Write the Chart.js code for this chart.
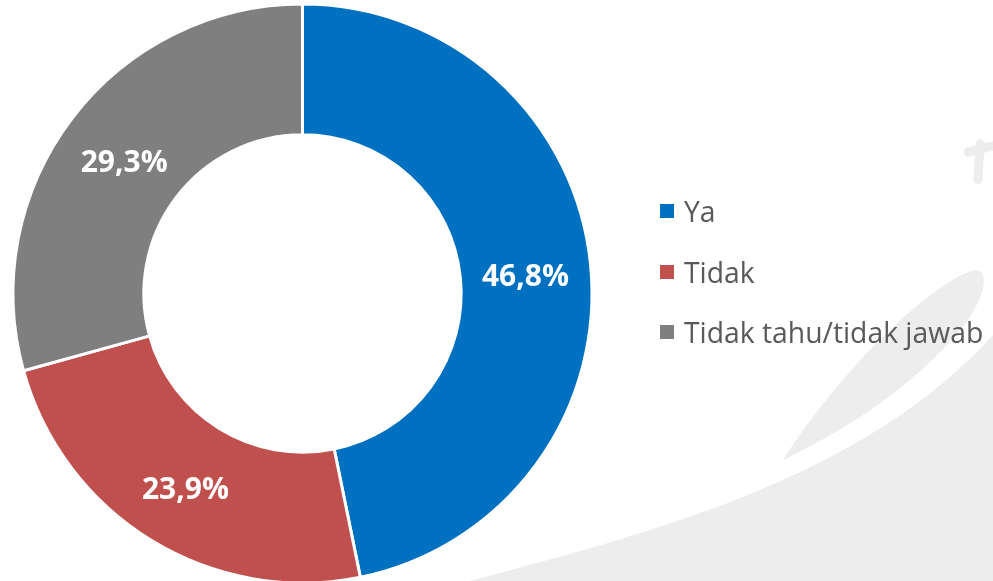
<!DOCTYPE html>
<html>
<head>
<meta charset="utf-8">
<script src="https://cdn.jsdelivr.net/npm/chart.js@4"></script>
<style>
  html, body { margin: 0; padding: 0; background: #fff; }
  #wrap { position: relative; width: 993px; height: 581px; overflow: hidden; }
  #bg { position: absolute; left: 0; top: 0; }
  #myChart { position: absolute; left: 0; top: 0; }
  #legend {
    position: absolute; left: 660px; top: 181px;
    font-family: "Open Sans", sans-serif; font-size: 28.3px; color: #595959;
  }
  #legend .item { display: flex; align-items: center; height: 60.5px; white-space: nowrap; }
  #legend .box { width: 14px; height: 14px; margin-right: 10px; }
</style>
</head>
<body>
<div id="wrap">
  <svg id="bg" width="993" height="581">
    <path d="M 470 581 C 640 535, 860 482, 993 335 L 993 581 Z" fill="#ededed"/>
    <path d="M 783 460 C 830 385, 915 295, 968 272 C 990 263, 990 292, 962 328 C 905 395, 840 432, 783 460 Z" fill="#ededed"/>
    <path d="M 968 152 L 993 146 M 980 144 L 978 180" stroke="#ededed" stroke-width="9" stroke-linecap="round" fill="none"/>
  </svg>
  <canvas id="myChart" width="993" height="640"></canvas>
  <div id="legend"></div>
</div>
<script>
const labels = ["Ya", "Tidak", "Tidak tahu/tidak jawab"];
const values = [46.8, 23.9, 29.3];
const colors = ["#0070C0", "#C0504D", "#7F7F7F"];

// percentage labels inside each slice
const sliceLabels = {
  id: "sliceLabels",
  afterDatasetsDraw(chart) {
    const ctx = chart.ctx;
    const meta = chart.getDatasetMeta(0);
    ctx.save();
    ctx.font = "bold 30px 'Open Sans', sans-serif";
    ctx.fillStyle = "#ffffff";
    ctx.textAlign = "center";
    ctx.textBaseline = "middle";
    meta.data.forEach((arc, i) => {
      const p = arc.tooltipPosition();
      const txt = values[i].toFixed(1).replace(".", ",") + "%";
      ctx.fillText(txt, p.x, p.y + 6);
    });
    ctx.restore();
  },
};

new Chart("myChart", {
  type: "doughnut",
  data: {
    labels: labels,
    datasets: [
      {
        data: values,
        backgroundColor: colors,
        borderColor: "#ffffff",
        borderWidth: 3,
      },
    ],
  },
  options: {
    responsive: false,
    animation: false,
    devicePixelRatio: 1,
    cutout: "54.8%",
    layout: {
      padding: { left: 11.5, top: 2.5, right: 399.5, bottom: 55.5 },
    },
    plugins: {
      legend: { display: false },
      tooltip: { enabled: false },
    },
  },
  plugins: [sliceLabels],
});

// legend built from the same arrays
const legend = document.getElementById("legend");
labels.forEach((l, i) => {
  const item = document.createElement("div");
  item.className = "item";
  const box = document.createElement("span");
  box.className = "box";
  box.style.background = colors[i];
  const t = document.createElement("span");
  t.textContent = l;
  item.appendChild(box);
  item.appendChild(t);
  legend.appendChild(item);
});
</script>
</body>
</html>
